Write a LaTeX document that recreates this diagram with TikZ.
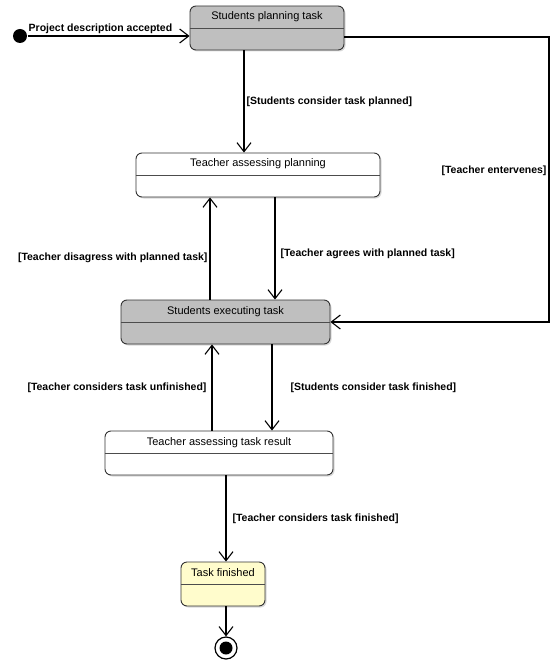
\documentclass[tikz,border=0pt]{standalone}
\usepackage{fontspec}
\setmainfont{Liberation Sans}
\usetikzlibrary{arrows.meta,shadows}

\begin{document}
\begin{tikzpicture}[x=1pt, y=-1pt, ->, >={Straight Barb[length=9pt,width=14pt]}, line width=1.1pt,
  statebox/.style={draw=black!80, line width=0.9pt, rounded corners=6pt, fill=#1,
    font=\fontsize{11}{13}\selectfont, text height=10pt, text depth=26pt, inner ysep=4pt,
    drop shadow={shadow xshift=1.5pt, shadow yshift=-1.5pt, opacity=0.3},
    append after command={(\tikzlastnode.west) edge[-, draw=black!70, line width=0.9pt] (\tikzlastnode.east)}},
  guard/.style={font=\fontsize{10.5}{12}\selectfont\bfseries, inner sep=2pt}]
  \useasboundingbox (0,0) rectangle (553,663);

  \node[statebox=black!25, minimum width=154pt] (plan)   at (267,28)    {Students planning task};
  \node[statebox=white,    minimum width=244pt] (asplan) at (258,175)   {Teacher assessing planning};
  \node[statebox=black!25, minimum width=209pt] (exec)   at (225.5,322) {Students executing task};
  \node[statebox=white,    minimum width=228pt] (asres)  at (219,453)   {Teacher assessing task result};
  \node[statebox=yellow!20,minimum width=84pt]  (done)   at (223,584)   {Task finished};

  \node[circle, fill=black, minimum size=14pt, inner sep=0pt] (start) at (20,36) {};
  \node[circle, draw, fill=white, line width=1.2pt, minimum size=22pt, inner sep=0pt] (end) at (226,648) {};
  \fill (end.center) circle (6.5pt);
  \coordinate (turn) at (549,171);

  \draw (start) -- node[guard, above, pos=0.45] {Project description accepted} (start -| plan.west);
  \draw (plan.south -| 244,0) -- node[guard, right] {[Students consider task planned]} (asplan.north -| 244,0);
  \draw (asplan.south -| 275,0) -- node[guard, right, pos=0.55, xshift=3pt] {[Teacher agrees with planned task]} (exec.north -| 275,0);
  \draw (exec.north -| 210,0) -- node[guard, left, pos=0.41] {[Teacher disagress with planned task]} (asplan.south -| 210,0);
  \draw (exec.south -| 272,0) -- node[guard, right, xshift=16pt] {[Students consider task finished]} (asres.north -| 272,0);
  \draw (asres.north -| 212,0) -- node[guard, left, xshift=-3pt] {[Teacher considers task unfinished]} (exec.south -| 212,0);
  \draw (asres.south -| 226,0) -- node[guard, right, xshift=4pt] {[Teacher considers task finished]} (done.north -| 226,0);
  \draw (done.south -| end) -- (end);
  \draw ([yshift=-9pt]plan.east) -| node[guard, left, pos=1] {[Teacher entervenes]} (turn) |- (exec.east);
\end{tikzpicture}
\end{document}
